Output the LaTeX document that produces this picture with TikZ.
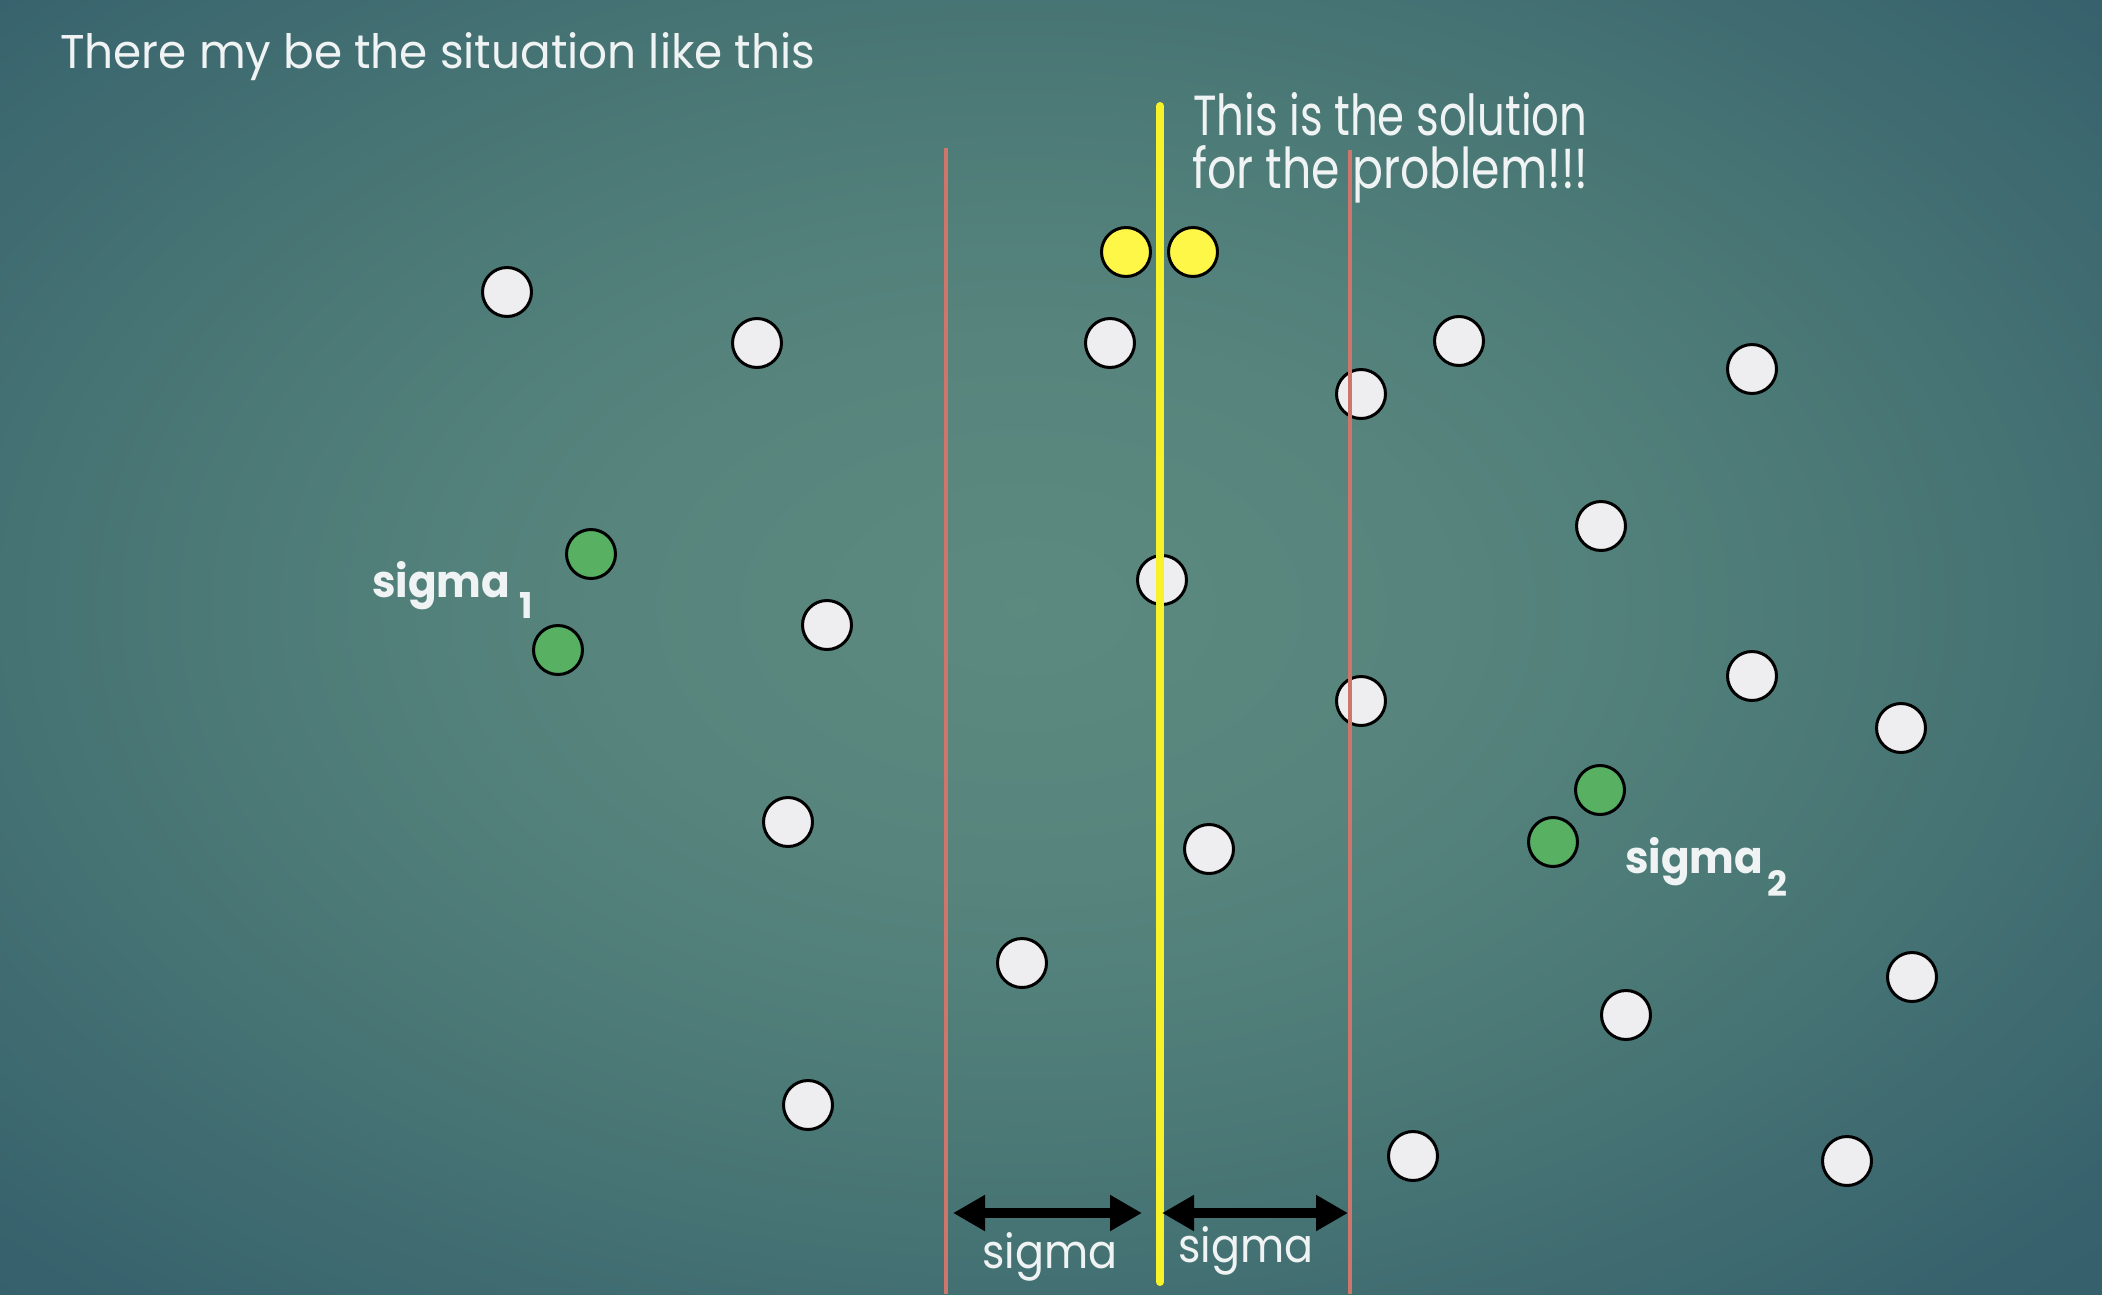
\documentclass[tikz,border=0pt]{standalone}
\usepackage{fontspec}
\setmainfont{Poppins}
\usetikzlibrary{arrows.meta}
\definecolor{dotwhite}{RGB}{238,238,240}
\definecolor{dotgreen}{RGB}{88,176,98}
\definecolor{dotyellow}{RGB}{255,247,72}
\definecolor{lineyellow}{RGB}{248,242,40}
\definecolor{linered}{RGB}{204,118,108}
\definecolor{txt}{RGB}{240,243,243}
\pgfdeclareradialshading{slidebg}{\pgfpoint{0bp}{0bp}}{rgb(0bp)=(0.36,0.54,0.50); rgb(10bp)=(0.34,0.52,0.49); rgb(20bp)=(0.29,0.47,0.46); rgb(32bp)=(0.22,0.39,0.43); rgb(45bp)=(0.18,0.33,0.40); rgb(60bp)=(0.16,0.29,0.36); rgb(75bp)=(0.14,0.25,0.32)}
\begin{document}
\begin{tikzpicture}[x=1pt,y=-1pt,
  dot/.style={circle,draw=black,line width=3pt,minimum size=49pt,inner sep=0pt},
  wdot/.style={dot,fill=dotwhite},
  gdot/.style={dot,fill=dotgreen},
  ydot/.style={dot,fill=dotyellow},
  redline/.style={draw=linered,line width=4.5pt},
  yline/.style={draw=lineyellow,line width=8pt,line cap=round},
  dimarrow/.style={draw=black,line width=10pt,{Triangle[length=32pt,width=34pt]}-{Triangle[length=32pt,width=34pt]}},
  lbl/.style={anchor=base west,inner sep=0pt,text=txt}]
\useasboundingbox (0,0) rectangle (2102,1294);
\shade[shading=slidebg] (-60,-80) rectangle (2102,1294);
% white dots
\node[wdot] (w1) at (507,292) {};
\node[wdot] (w2) at (757,343) {};
\node[wdot] (w3) at (1110,343) {};
\node[wdot] (w4) at (1459,341) {};
\node[wdot] (w5) at (1752,369) {};
\node[wdot] (w6) at (1361,394) {};
\node[wdot] (w7) at (1601,526) {};
\node[wdot] (w8) at (1162,580) {};
\node[wdot] (w9) at (827,625) {};
\node[wdot] (w10) at (1361,701) {};
\node[wdot] (w11) at (1752,676) {};
\node[wdot] (w12) at (1901,728) {};
\node[wdot] (w13) at (788,822) {};
\node[wdot] (w14) at (1209,849) {};
\node[wdot] (w15) at (1022,963) {};
\node[wdot] (w16) at (1912,977) {};
\node[wdot] (w17) at (1626,1015) {};
\node[wdot] (w18) at (808,1105) {};
\node[wdot] (w19) at (1413,1156) {};
\node[wdot] (w20) at (1847,1161) {};
% green dots
\node[gdot] (g1) at (591,554) {};
\node[gdot] (g2) at (558,650) {};
\node[gdot] (g3) at (1600,790) {};
\node[gdot] (g4) at (1553,842) {};
% yellow dots
\node[ydot] (y1) at (1126,252) {};
\node[ydot] (y2) at (1193,252) {};
% lines
\coordinate (rlt) at (946,148);
\coordinate (rlb) at (946,1294);
\coordinate (rrt) at (1350,150);
\coordinate (rrb) at (1350,1294);
\coordinate (ylt) at (1160,106);
\coordinate (ylb) at (1160,1282);
\draw[redline] (rlt) -- (rlb);
\draw[redline] (rrt) -- (rrb);
\draw[yline] (ylt) -- (ylb);
% sigma arrows
\coordinate (a1l) at (953,1213);
\coordinate (a1r) at (1142,1213);
\coordinate (a2l) at (1162,1213);
\coordinate (a2r) at (1348,1213);
\draw[dimarrow] (a1l) -- (a1r);
\draw[dimarrow] (a2l) -- (a2r);
% texts
\node[lbl] (title) at (60,68) {\resizebox{755pt}{36pt}{There my be the situation like this}};
\node[lbl] (sol1) at (1193,135) {\resizebox{394pt}{43pt}{This is the solution}};
\node[lbl] (sol2) at (1192,188) {\resizebox{396pt}{43pt}{for the problem!!!}};
\node[lbl] (s1) at (372,597) {\resizebox{138pt}{36pt}{\bfseries sigma}};
\node[lbl] (s1sub) at (519,618) {\resizebox{!}{26pt}{\bfseries 1}};
\node[lbl] (s2) at (1625,873) {\resizebox{138pt}{36pt}{\bfseries sigma}};
\node[lbl] (s2sub) at (1767,896) {\resizebox{!}{26pt}{\bfseries 2}};
\node[lbl] (sg1) at (982,1268) {\resizebox{135pt}{36pt}{sigma}};
\node[lbl] (sg2) at (1178,1262) {\resizebox{135pt}{36pt}{sigma}};
\end{tikzpicture}
\end{document}
